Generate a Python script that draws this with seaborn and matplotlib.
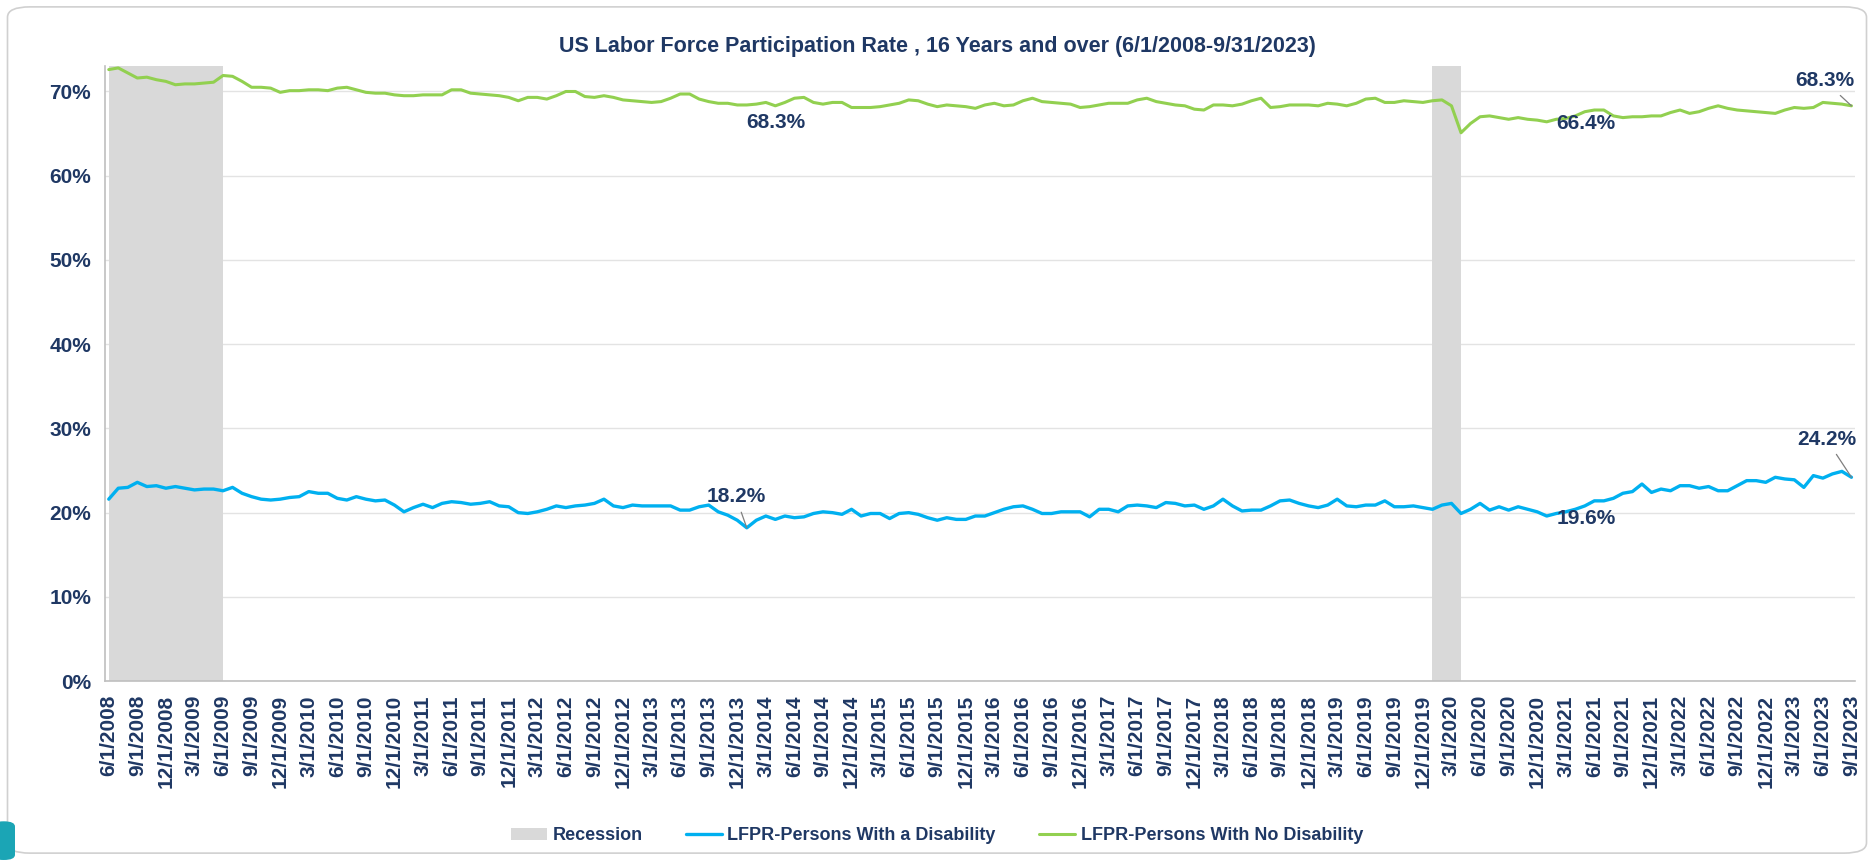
import numpy as np
import pandas as pd
import seaborn as sns
import matplotlib.pyplot as plt
from matplotlib.patches import FancyBboxPatch, Patch
from matplotlib.lines import Line2D
from matplotlib.ticker import PercentFormatter

# Monthly data, 6/1/2008 - 9/1/2023 (values in %)
months = pd.date_range("2008-06-01", "2023-09-01", freq="MS")

disability = [
    21.6, 22.9, 23.0, 23.6, 23.1, 23.2, 22.9, 23.1, 22.9, 22.7,
    22.8, 22.8, 22.6, 23.0, 22.3, 21.9, 21.6, 21.5, 21.6, 21.8,
    21.9, 22.5, 22.3, 22.3, 21.7, 21.5, 21.9, 21.6, 21.4, 21.5,
    20.9, 20.1, 20.6, 21.0, 20.6, 21.1, 21.3, 21.2, 21.0, 21.1,
    21.3, 20.8, 20.7, 20.0, 19.9, 20.1, 20.4, 20.8, 20.6, 20.8,
    20.9, 21.1, 21.6, 20.8, 20.6, 20.9, 20.8, 20.8, 20.8, 20.8,
    20.3, 20.3, 20.7, 20.9, 20.1, 19.7, 19.1, 18.2, 19.1, 19.6,
    19.2, 19.6, 19.4, 19.5, 19.9, 20.1, 20.0, 19.8, 20.4, 19.6,
    19.9, 19.9, 19.3, 19.9, 20.0, 19.8, 19.4, 19.1, 19.4, 19.2,
    19.2, 19.6, 19.6, 20.0, 20.4, 20.7, 20.8, 20.4, 19.9, 19.9,
    20.1, 20.1, 20.1, 19.5, 20.4, 20.4, 20.1, 20.8, 20.9, 20.8,
    20.6, 21.2, 21.1, 20.8, 20.9, 20.4, 20.8, 21.6, 20.8, 20.2,
    20.3, 20.3, 20.8, 21.4, 21.5, 21.1, 20.8, 20.6, 20.9, 21.6,
    20.8, 20.7, 20.9, 20.9, 21.4, 20.7, 20.7, 20.8, 20.6, 20.4,
    20.9, 21.1, 19.9, 20.4, 21.1, 20.3, 20.7, 20.3, 20.7, 20.4,
    20.1, 19.6, 19.9, 20.1, 20.4, 20.8, 21.4, 21.4, 21.7, 22.3,
    22.5, 23.4, 22.4, 22.8, 22.6, 23.2, 23.2, 22.9, 23.1, 22.6,
    22.6, 23.2, 23.8, 23.8, 23.6, 24.2, 24.0, 23.9, 23.0, 24.4,
    24.1, 24.6, 24.9, 24.2,
]

no_disability = [
    72.6, 72.8, 72.2, 71.6, 71.7, 71.4, 71.2, 70.8, 70.9, 70.9,
    71.0, 71.1, 71.9, 71.8, 71.2, 70.5, 70.5, 70.4, 69.9, 70.1,
    70.1, 70.2, 70.2, 70.1, 70.4, 70.5, 70.2, 69.9, 69.8, 69.8,
    69.6, 69.5, 69.5, 69.6, 69.6, 69.6, 70.2, 70.2, 69.8, 69.7,
    69.6, 69.5, 69.3, 68.9, 69.3, 69.3, 69.1, 69.5, 70.0, 70.0,
    69.4, 69.3, 69.5, 69.3, 69.0, 68.9, 68.8, 68.7, 68.8, 69.2,
    69.7, 69.7, 69.1, 68.8, 68.6, 68.6, 68.4, 68.4, 68.5, 68.7,
    68.3, 68.7, 69.2, 69.3, 68.7, 68.5, 68.7, 68.7, 68.1, 68.1,
    68.1, 68.2, 68.4, 68.6, 69.0, 68.9, 68.5, 68.2, 68.4, 68.3,
    68.2, 68.0, 68.4, 68.6, 68.3, 68.4, 68.9, 69.2, 68.8, 68.7,
    68.6, 68.5, 68.1, 68.2, 68.4, 68.6, 68.6, 68.6, 69.0, 69.2,
    68.8, 68.6, 68.4, 68.3, 67.9, 67.8, 68.4, 68.4, 68.3, 68.5,
    68.9, 69.2, 68.1, 68.2, 68.4, 68.4, 68.4, 68.3, 68.6, 68.5,
    68.3, 68.6, 69.1, 69.2, 68.7, 68.7, 68.9, 68.8, 68.7, 68.9,
    69.0, 68.3, 65.1, 66.2, 67.0, 67.1, 66.9, 66.7, 66.9, 66.7,
    66.6, 66.4, 66.7, 66.8, 67.1, 67.6, 67.8, 67.8, 67.1, 66.9,
    67.0, 67.0, 67.1, 67.1, 67.5, 67.8, 67.4, 67.6, 68.0, 68.3,
    68.0, 67.8, 67.7, 67.6, 67.5, 67.4, 67.8, 68.1, 68.0, 68.1,
    68.7, 68.6, 68.5, 68.3,
]

recessions = [("2008-06-01", "2009-06-01"), ("2020-01-01", "2020-04-01")]

# labelled points: (series, month)
callouts = [
    ("no_disability", "2014-04-01"),
    ("no_disability", "2021-01-01"),
    ("no_disability", "2023-09-01"),
    ("disability", "2014-01-01"),
    ("disability", "2021-01-01"),
    ("disability", "2023-09-01"),
]

assert len(disability) == len(months) == len(no_disability)

NAVY = "#1F3864"
BLUE = "#00B0F0"
GREEN = "#92D050"
GREY = "#D9D9D9"

sns.set_style("white")
plt.rcParams["font.family"] = ["Liberation Sans Narrow", "Liberation Sans", "DejaVu Sans"]
plt.rcParams["font.weight"] = "bold"

df = pd.DataFrame({
    "idx": np.arange(len(months)),
    "disability": disability,
    "no_disability": no_disability,
})
pos = {d: i for i, d in enumerate(months)}

fig = plt.figure(figsize=(18.74, 8.6), dpi=100)
ax = fig.add_axes([0.056, 0.208, 0.934, 0.715])

# outer frame
fig.patches.append(FancyBboxPatch((0.004, 0.008), 0.992, 0.984,
                                  boxstyle="round,pad=0,rounding_size=0.012",
                                  transform=fig.transFigure, fill=False,
                                  edgecolor="#D0D0D0", linewidth=1.2))
fig.patches.append(FancyBboxPatch((-0.004, 0.0), 0.012, 0.045,
                                  boxstyle="round,pad=0,rounding_size=0.006",
                                  transform=fig.transFigure, facecolor="#1BA5B5",
                                  edgecolor="none"))

for start, end in recessions:
    ax.axvspan(pos[pd.Timestamp(start)], pos[pd.Timestamp(end)], color=GREY, lw=0, zorder=1)

sns.lineplot(data=df, x="idx", y="disability", color=BLUE, lw=2.4, ax=ax, zorder=3)
sns.lineplot(data=df, x="idx", y="no_disability", color=GREEN, lw=2.2, ax=ax, zorder=3)

ax.set_xlim(-0.4, len(months) - 0.6)
ax.set_ylim(0, 73)
ax.set_yticks(range(0, 71, 10))
ax.yaxis.set_major_formatter(PercentFormatter(decimals=0))
ax.grid(axis="y", color="#E3E3E3", lw=1, zorder=0)
ax.set_axisbelow(True)

tick_idx = list(range(0, len(months), 3))
ax.set_xticks(tick_idx)
ax.set_xticklabels([f"{months[i].month}/{months[i].day}/{months[i].year}" for i in tick_idx],
                   rotation=90, fontsize=15, fontweight="bold", color=NAVY)
for t in ax.get_yticklabels():
    t.set_fontsize(15)
    t.set_fontweight("bold")
    t.set_color(NAVY)
ax.tick_params(axis="x", direction="out", length=6, color="#BFBFBF", pad=4)
ax.tick_params(axis="y", length=0, pad=10)
ax.set_xlabel("")
ax.set_ylabel("")
for s in ["top", "right"]:
    ax.spines[s].set_visible(False)
for s in ["left", "bottom"]:
    ax.spines[s].set_color("#BFBFBF")
    ax.spines[s].set_linewidth(1.2)

# callout placement (offset in pixels, alignment, leader line)
offsets = [((0, -17), "center", False), ((10, -2), "left", False), ((-27, 25), "center", True),
           ((-11, 31), "center", True), ((10, -2), "left", False), ((-25, 38), "center", True)]
for (series, month), (off, ha, leader) in zip(callouts, offsets):
    i = pos[pd.Timestamp(month)]
    v = df[series].iloc[i]
    ax.annotate(f"{v:.1f}%", xy=(i, v), xytext=off, textcoords="offset pixels",
                ha=ha, va="center", fontsize=15, fontweight="bold", color=NAVY, zorder=5,
                arrowprops=dict(arrowstyle="-", color="#7F7F7F", lw=0.9, shrinkA=2, shrinkB=0) if leader else None)

fig.suptitle("US Labor Force Participation Rate , 16 Years and over (6/1/2008-9/31/2023)",
             x=0.5, y=0.958, fontsize=15.5, fontweight="bold", color=NAVY)

handles = [Patch(facecolor=GREY, edgecolor="none"),
           Line2D([], [], color=BLUE, lw=2.4),
           Line2D([], [], color=GREEN, lw=2.2)]
leg = fig.legend(handles, ["Recession", "LFPR-Persons With a Disability", "LFPR-Persons With No Disability"],
                 loc="center", bbox_to_anchor=(0.5, 0.028), ncol=3, frameon=False,
                 fontsize=13, handlelength=2.0, handletextpad=0.3, columnspacing=2.4)
for t in leg.get_texts():
    t.set_color(NAVY)
    t.set_fontweight("bold")

fig.savefig("out.png", dpi=100, facecolor="white")
